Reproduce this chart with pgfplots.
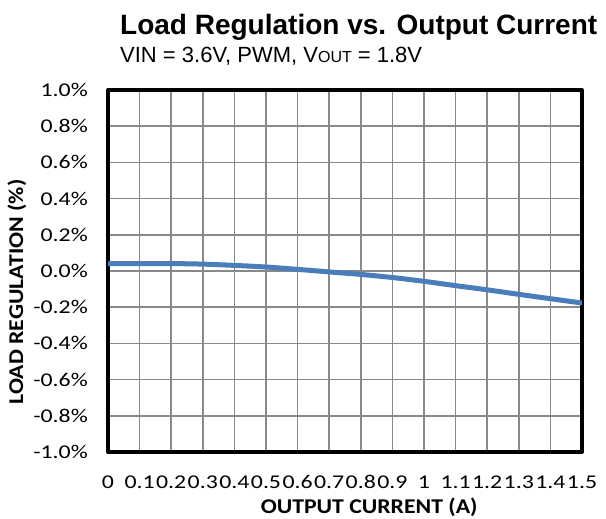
\documentclass[border=0pt]{standalone}
\usepackage{fontspec}
\setmainfont{Carlito}
\newfontfamily\ticksfont[FakeStretch=1.22]{Carlito}
\newfontfamily\labfont[FakeStretch=1.13]{Carlito}
\newfontfamily\arial{Liberation Sans}
\usepackage{pgfplots}
\pgfplotsset{compat=1.18}
\definecolor{lineblue}{RGB}{74,126,187}
\definecolor{gridgray}{RGB}{137,137,137}
\begin{document}
\begin{tikzpicture}
\path[use as bounding box] (-108bp,-67bp) rectangle (498bp,452bp);
\begin{axis}[
  name=ax,
  at={(0,0)}, anchor=south west,
  scale only axis,
  width=474bp, height=362bp,
  xmin=0, xmax=1.5, ymin=-1, ymax=1,
  xtick={0,0.1,0.2,0.3,0.4,0.5,0.6,0.7,0.8,0.9,1,1.1,1.2,1.3,1.4,1.5},
  xticklabels={0,0.1,0.2,0.3,0.4,0.5,0.6,0.7,0.8,0.9,1,1.1,1.2,1.3,1.4,1.5},
  ytick={-1,-0.8,-0.6,-0.4,-0.2,0,0.2,0.4,0.6,0.8,1},
  yticklabels={-1.0\%,-0.8\%,-0.6\%,-0.4\%,-0.2\%,0.0\%,0.2\%,0.4\%,0.6\%,0.8\%,1.0\%},
  tick style={draw=none},
  grid=major,
  major grid style={draw=gridgray, line width=1.5bp},
  axis line style={line width=4bp, line join=round},
  xticklabel style={font=\ticksfont\fontsize{19.5bp}{19.5bp}\selectfont, anchor=base, inner sep=0pt, yshift=-36bp},
  yticklabel style={font=\ticksfont\fontsize{19.5bp}{19.5bp}\selectfont, anchor=east, inner sep=0pt, xshift=-20bp},
  xlabel={OUTPUT CURRENT (A)},
  ylabel={LOAD REGULATION (\%)},
  xlabel style={font=\labfont\bfseries\fontsize{21bp}{21bp}\selectfont, at={(axis description cs:0.551,0)}, anchor=base, inner sep=0pt, yshift=-61bp},
  ylabel style={font=\labfont\bfseries\fontsize{21bp}{21bp}\selectfont, at={(axis description cs:-0.192,0.442)}, anchor=center, inner sep=0pt, rotate=0},
]
\addplot[lineblue, line width=5bp, smooth] coordinates {
(0,0.040) (0.1,0.041) (0.2,0.041) (0.3,0.038) (0.4,0.031) (0.5,0.022)
(0.6,0.009) (0.7,-0.005) (0.8,-0.019) (0.9,-0.036) (1.0,-0.057) (1.1,-0.081)
(1.2,-0.104) (1.3,-0.129) (1.4,-0.153) (1.5,-0.177)
};
\end{axis}
\node[anchor=base west, inner sep=0pt, font=\arial\bfseries\fontsize{28bp}{28bp}\selectfont] at (12bp,417bp) {Load Regulation vs. Output Current};
\node[anchor=base west, inner sep=0pt, font=\arial\fontsize{22bp}{22bp}\selectfont] at (12bp,389bp) {VIN = 3.6V, PWM, V{\fontsize{16bp}{16bp}\selectfont OUT} = 1.8V};
\end{tikzpicture}
\end{document}
